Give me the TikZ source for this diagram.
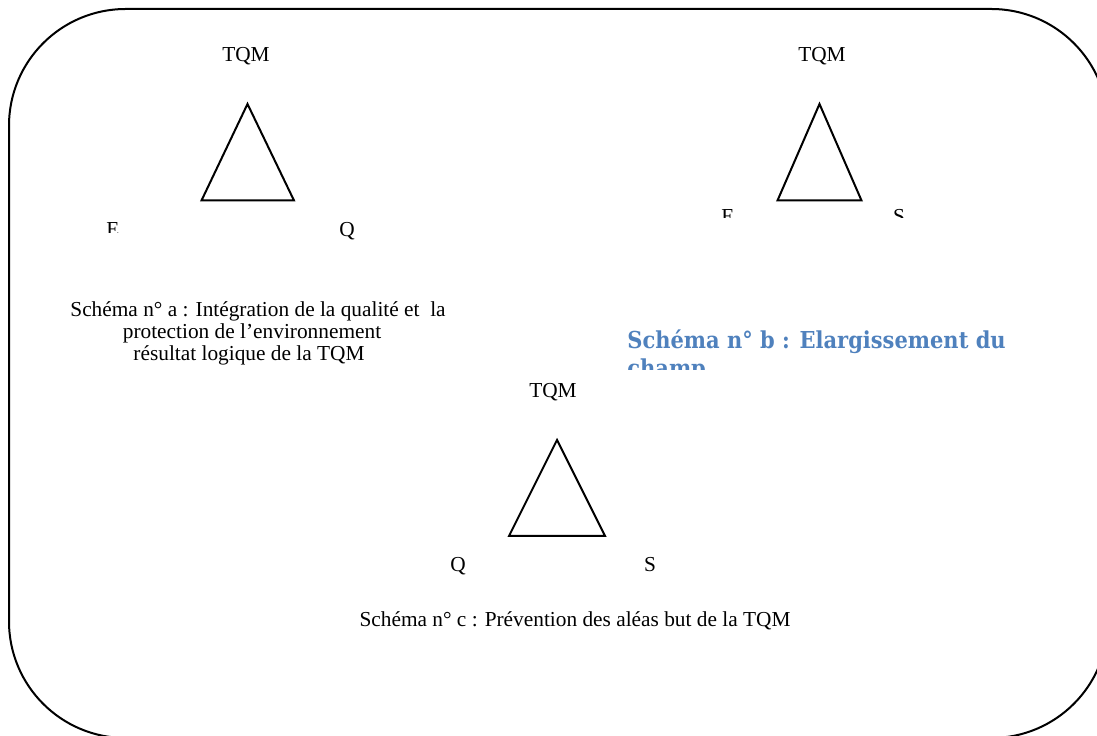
\documentclass[tikz,border=0pt]{standalone}
\usepackage{fontspec}
\setmainfont{Liberation Serif}
\newfontfamily\headfont[FakeStretch=0.9]{DejaVu Serif}
\usepackage{xcolor}
\usepackage{tikz}
\usetikzlibrary{positioning}
\definecolor{headblue}{RGB}{79,129,189}
\tikzset{
  lbl/.style    ={font=\fontsize{12.8}{13.2}\selectfont, inner sep=0pt, anchor=base},
  tri/.style    ={draw, line width=1.2pt, line join=miter},
  frame/.style  ={draw, line width=1.2pt, rounded corners=70pt},
  headtxt/.style={font=\headfont\bfseries\fontsize{14}{17}\selectfont,
                  text=headblue, inner sep=0pt, anchor=base west},
}
\begin{document}
\begin{tikzpicture}[x=0.6pt, y=-0.6pt]
  \useasboundingbox (0,0) rectangle (1097,736);
  \clip (0,0) rectangle (1097,736);
  \draw[frame] (9,9) rectangle (1108,738);

  % schema a
  \coordinate (aTop) at (247.5,104);
  \coordinate (aL)   at (201.5,200.5);
  \coordinate (aR)   at (294,200.5);
  \draw[tri] (aTop) -- (aL) -- (aR) -- cycle;
  \node[lbl] (aTqm) at (246,62) {TQM};
  \begin{scope}
    \clip (0,0) rectangle (300,233);
    \node[lbl] (aE) at (113,237) {E};
  \end{scope}
  \node[lbl] (aQ) at (347,237) {Q};
  \node[lbl] (aCap1) at (258,317) {Schéma n° a : Intégration de la qualité et\ \ la};
  \node[lbl] (aCap2) at (252,339) {protection de l’environnement};
  \node[lbl] (aCap3) at (249,361) {résultat logique de la TQM};

  % schema b
  \coordinate (bTop) at (819.5,104);
  \coordinate (bL)   at (777.5,200.5);
  \coordinate (bR)   at (861.5,200.5);
  \draw[tri] (bTop) -- (bL) -- (bR) -- cycle;
  \node[lbl] (bTqm) at (822,62) {TQM};
  \begin{scope}
    \clip (600,0) rectangle (1097,218);
    \node[lbl] (bE) at (728,224) {E};
    \node[lbl] (bS) at (899,224) {S};
  \end{scope}
  \node[headtxt] (bHead) at (627,349) {Schéma n° b : Elargissement du};
  \begin{scope}
    \clip (600,350) rectangle (1097,370);
    \node[headtxt] (bHead2) at (627,377) {champ};
  \end{scope}

  % schema c
  \coordinate (cTop) at (557,440);
  \coordinate (cL)   at (509,536);
  \coordinate (cR)   at (605,536);
  \draw[tri] (cTop) -- (cL) -- (cR) -- cycle;
  \node[lbl] (cTqm) at (553,398) {TQM};
  \node[lbl] (cQ) at (458,572) {Q};
  \node[lbl] (cS) at (650,572) {S};
  \node[lbl] (cCap) at (575,627) {Schéma n° c : Prévention des aléas but de la TQM};
\end{tikzpicture}
\end{document}
